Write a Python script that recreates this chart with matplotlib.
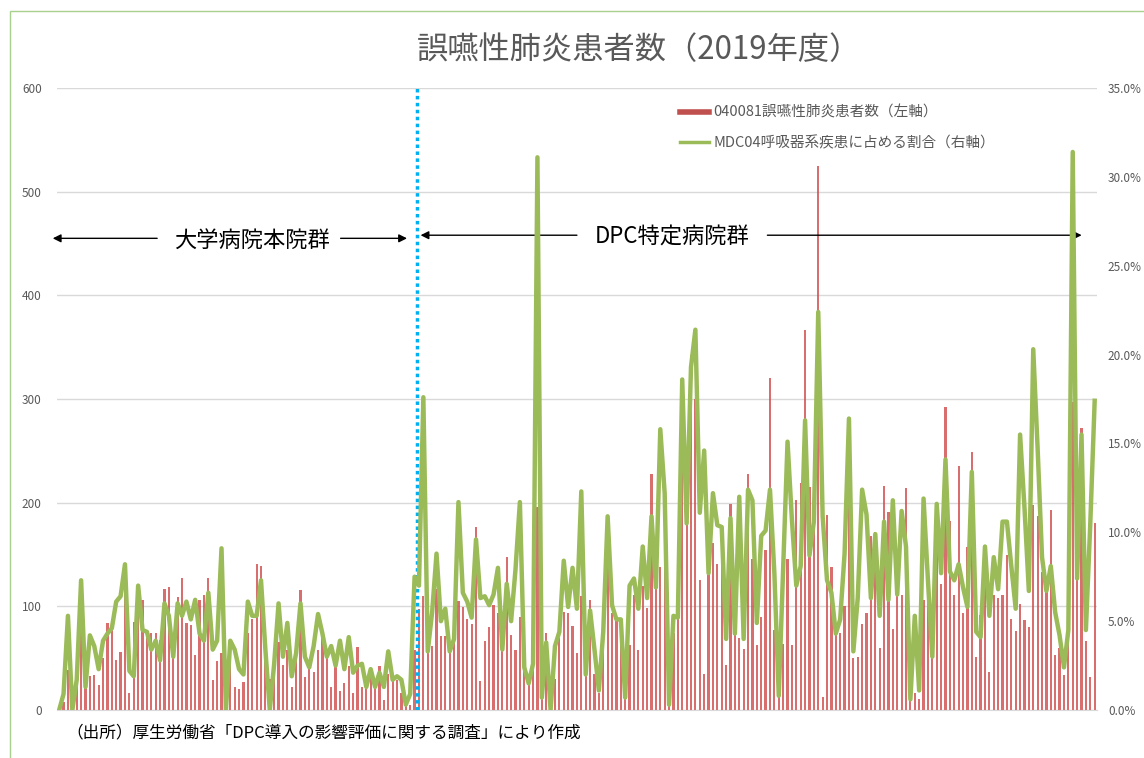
import numpy as np
import matplotlib
matplotlib.use('Agg')
import matplotlib.pyplot as plt
from matplotlib.lines import Line2D
from matplotlib.patches import Rectangle

plt.rcParams['font.family'] = ['Noto Sans CJK JP', 'DejaVu Sans']

# 040081 誤嚥性肺炎患者数 (left axis)
univ_counts = [0, 8, 39, 0, 25, 84, 22, 33, 34, 24, 50, 84, 88, 48, 56, 125, 16, 85, 120, 106,
               74, 74, 74, 68, 117, 119, 68, 109, 127, 84, 82, 53, 106, 111, 127, 29, 47, 55, 3, 45,
               22, 20, 27, 74, 88, 141, 139, 68, 30, 45, 66, 43, 58, 22, 48, 116, 32, 45, 37, 58,
               71, 53, 22, 47, 18, 26, 42, 16, 61, 22, 27, 35, 22, 42, 10, 35, 31, 29, 16, 10,
               5, 58]
dpc_counts = [97, 110, 55, 62, 117, 71, 71, 64, 67, 105, 99, 88, 83, 177, 28, 67, 80, 101, 94, 58,
              148, 72, 58, 90, 41, 34, 41, 196, 12, 74, 5, 30, 69, 95, 94, 81, 55, 110, 41, 106,
              35, 16, 57, 138, 94, 87, 80, 12, 63, 111, 58, 120, 98, 228, 119, 138, 150, 10, 74, 96,
              235, 178, 342, 300, 125, 35, 130, 161, 141, 148, 43, 199, 125, 69, 59, 228, 146, 63, 90, 154,
              320, 77, 16, 64, 146, 63, 203, 219, 367, 215, 227, 525, 13, 188, 138, 74, 74, 100, 209, 50,
              51, 83, 94, 168, 172, 60, 216, 191, 78, 111, 111, 214, 11, 16, 11, 106, 129, 51, 161, 122,
              292, 182, 111, 235, 94, 157, 249, 51, 92, 133, 37, 111, 108, 111, 150, 88, 76, 102, 87, 80,
              198, 187, 133, 120, 193, 53, 60, 34, 80, 297, 125, 272, 67, 32, 180]

# MDC04 呼吸器系疾患に占める割合 (right axis, %)
univ_ratio = [0.0, 0.9, 5.3, 0.0, 1.7, 7.3, 1.3, 4.2, 3.6, 2.3, 3.9, 4.3, 4.6, 6.1, 6.4, 8.2, 2.2, 1.9, 7.0, 4.5,
              4.4, 3.4, 3.9, 2.8, 6.0, 5.3, 3.0, 6.0, 5.3, 6.1, 5.1, 6.2, 4.3, 3.9, 6.6, 3.4, 3.9, 9.1, 0.0, 3.9,
              3.4, 2.3, 2.0, 6.1, 5.3, 5.3, 7.3, 3.4, 0.0, 2.6, 6.0, 3.0, 4.9, 1.9, 3.2, 6.0, 3.0, 2.4, 3.6, 5.4,
              4.3, 3.0, 3.6, 2.5, 3.9, 2.3, 4.1, 2.1, 2.5, 2.6, 1.3, 2.3, 1.3, 2.1, 1.3, 3.3, 1.7, 1.9, 1.7, 0.3,
              0.9, 7.5]
dpc_ratio = [7.0, 17.6, 3.3, 5.5, 8.8, 5.0, 5.7, 3.3, 4.0, 11.7, 6.6, 6.1, 5.2, 9.6, 6.3, 6.4, 5.9, 6.5, 8.0, 3.4,
             7.1, 5.0, 7.9, 11.7, 2.4, 1.5, 2.6, 31.1, 0.7, 3.8, 0.0, 3.6, 4.4, 8.4, 5.8, 8.0, 5.7, 12.3, 2.0, 5.6,
             3.4, 1.1, 4.4, 10.9, 5.9, 5.1, 5.1, 0.7, 7.0, 7.4, 5.7, 9.2, 6.3, 10.9, 6.9, 15.8, 12.2, 0.3, 5.3, 5.2,
             18.6, 10.5, 19.3, 21.4, 11.1, 14.6, 7.7, 12.2, 10.4, 10.3, 4.0, 10.8, 4.3, 12.0, 4.0, 12.4, 11.8, 4.9, 9.8, 10.1,
             12.4, 7.7, 0.8, 7.9, 15.1, 10.7, 7.0, 8.1, 16.3, 8.7, 10.6, 22.4, 10.9, 7.3, 6.6, 4.3, 5.1, 8.8, 16.4, 3.3,
             6.3, 12.4, 11.0, 6.3, 9.9, 5.3, 10.6, 6.2, 11.8, 6.5, 11.2, 9.2, 0.6, 5.3, 1.1, 11.9, 7.3, 3.0, 11.6, 7.7,
             14.1, 7.8, 7.3, 8.2, 6.9, 5.8, 13.4, 4.4, 4.1, 9.2, 5.3, 8.6, 6.8, 10.6, 10.6, 8.1, 5.7, 15.5, 11.4, 6.7,
             20.3, 14.7, 8.6, 6.7, 8.1, 5.5, 4.2, 2.4, 4.5, 31.4, 7.4, 15.5, 4.5, 10.5, 17.4]

counts = univ_counts + dpc_counts
ratio = univ_ratio + dpc_ratio
x = np.arange(len(counts))
split = len(univ_counts) - 0.5

gray = '#595959'
fig = plt.figure(figsize=(11.44, 7.58), dpi=100)
ax = fig.add_axes([0.0498, 0.0633, 0.909, 0.8206])
ax2 = ax.twinx()

ax.bar(x, counts, width=0.5, color='#cf4a4a', alpha=0.8, zorder=2)
ax2.plot(x, ratio, color='#9bbb59', lw=3.2, zorder=3)

ax.set_xlim(-0.5, len(counts) - 0.5)
ax.set_ylim(0, 600)
ax.set_yticks(range(0, 601, 100))
ax2.set_ylim(0, 35)
ax2.set_yticks(np.arange(0, 35.1, 5))
ax2.set_yticklabels(['%.1f%%' % v for v in np.arange(0, 35.1, 5)])
ax.set_xticks([])
ax.grid(axis='y', color='#d9d9d9', lw=1, zorder=0)
ax.set_axisbelow(True)
for a in (ax, ax2):
    for s in a.spines.values():
        s.set_visible(False)
    a.tick_params(length=0, labelsize=8.5, labelcolor=gray)
ax.spines['bottom'].set_visible(True)
ax.spines['bottom'].set_color('#d9d9d9')
ax.tick_params(axis='y', pad=11)
ax2.tick_params(axis='y', pad=8)

# boundary between groups
ax.axvline(split, color='#00b0f0', lw=2.5, ls=(0, (1, 1)), zorder=4)

# group arrows
def px(p):
    return (p - 57) / 4.39 - 0.5

arrow = dict(arrowstyle='-|>', color='black', lw=1, mutation_scale=12)
ax.annotate('', xy=(px(50), 455), xytext=(px(160), 455), arrowprops=arrow, annotation_clip=False)
ax.annotate('', xy=(px(410), 455), xytext=(px(338), 455), arrowprops=arrow)
ax.text(px(252), 453, '大学病院本院群', fontsize=16, ha='center', va='center', color='black')
ax.annotate('', xy=(px(418), 458), xytext=(px(580), 458), arrowprops=arrow)
ax.annotate('', xy=(px(1085), 458), xytext=(px(765), 458), arrowprops=arrow)
ax.text(px(672), 456, 'DPC特定病院群', fontsize=16, ha='center', va='center', color='black')

handles = [Line2D([], [], color='#c0504d', lw=4),
           Line2D([], [], color='#9bbb59', lw=2.5)]
labels = ['040081誤嚥性肺炎患者数（左軸）', 'MDC04呼吸器系疾患に占める割合（右軸）']
leg = fig.legend(handles, labels, loc='upper left', bbox_to_anchor=(0.583, 0.878),
                 frameon=False, fontsize=10.5, labelspacing=1.1, handlelength=2.0,
                 handletextpad=0.3, labelcolor=gray)

fig.text(0.559, 0.934, '誤嚥性肺炎患者数（2019年度）', fontsize=22.5, color=gray, ha='center', va='center')
fig.text(0.058, 0.033, '（出所）厚生労働省「DPC導入の影響評価に関する調査」により作成',
         fontsize=12, color='black', ha='left', va='center')

fig.patches.append(Rectangle((0.009, -0.01), 1.0, 0.995, transform=fig.transFigure,
                             fill=False, edgecolor='#a9d18e', lw=1))

fig.savefig('out.png', dpi=100)
